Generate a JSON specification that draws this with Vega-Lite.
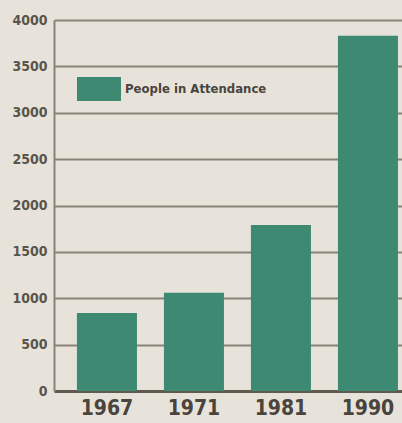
{
  "$schema": "https://vega.github.io/schema/vega-lite/v6.json",
  "width": 348,
  "height": 371,
  "autosize": {"type": "none"},
  "padding": {"left": 54, "top": 20, "right": 0, "bottom": 32},
  "background": "#e7e3db",
  "config": {"view": {"stroke": null}, "font": "DejaVu Sans Condensed, sans-serif"},
  "data": {
    "values": [
      {"year": "1967", "attendance": 840, "series": "People in Attendance"},
      {"year": "1971", "attendance": 1060, "series": "People in Attendance"},
      {"year": "1981", "attendance": 1790, "series": "People in Attendance"},
      {"year": "1990", "attendance": 3830, "series": "People in Attendance"}
    ]
  },
  "mark": {"type": "bar"},
  "encoding": {
    "x": {
      "field": "year",
      "type": "nominal",
      "scale": {"paddingInner": 0.31, "paddingOuter": 0.155, "align": 0.85},
      "axis": {
        "title": null,
        "labelAngle": 0,
        "ticks": false,
        "domain": false,
        "labelFont": "DejaVu Sans Condensed, sans-serif",
        "labelFontWeight": "bold",
        "labelFontSize": 21,
        "labelColor": "#4a443d",
        "labelPadding": 6
      }
    },
    "y": {
      "field": "attendance",
      "type": "quantitative",
      "scale": {"domain": [0, 4000], "nice": false},
      "axis": {
        "title": null,
        "values": [0, 500, 1000, 1500, 2000, 2500, 3000, 3500, 4000],
        "format": "d",
        "ticks": false,
        "domain": true,
        "domainColor": "#8a8278",
        "domainWidth": 2,
        "grid": true,
        "gridColor": {"condition": {"test": "datum.value === 0", "value": "#62594e"}, "value": "#8a8278"},
        "gridWidth": {"condition": {"test": "datum.value === 0", "value": 3}, "value": 2},
        "gridOpacity": 1,
        "labelFont": "DejaVu Sans Condensed, sans-serif",
        "labelFontWeight": "bold",
        "labelFontSize": 14,
        "labelColor": "#5a544b",
        "labelPadding": 7
      }
    },
    "color": {
      "field": "series",
      "type": "nominal",
      "scale": {"range": ["#3d8971"]},
      "legend": {
        "title": null,
        "orient": "none",
        "legendX": 23,
        "legendY": 47,
        "padding": 0,
        "symbolType": "M-1,-0.545H1V0.545H-1Z",
        "symbolSize": 1936,
        "symbolStrokeWidth": 0,
        "symbolOpacity": 1,
        "labelFont": "DejaVu Sans Condensed, sans-serif",
        "labelFontWeight": "bold",
        "labelFontSize": 13,
        "labelColor": "#4a443d",
        "labelOffset": 4,
        "labelLimit": 300
      }
    }
  }
}
